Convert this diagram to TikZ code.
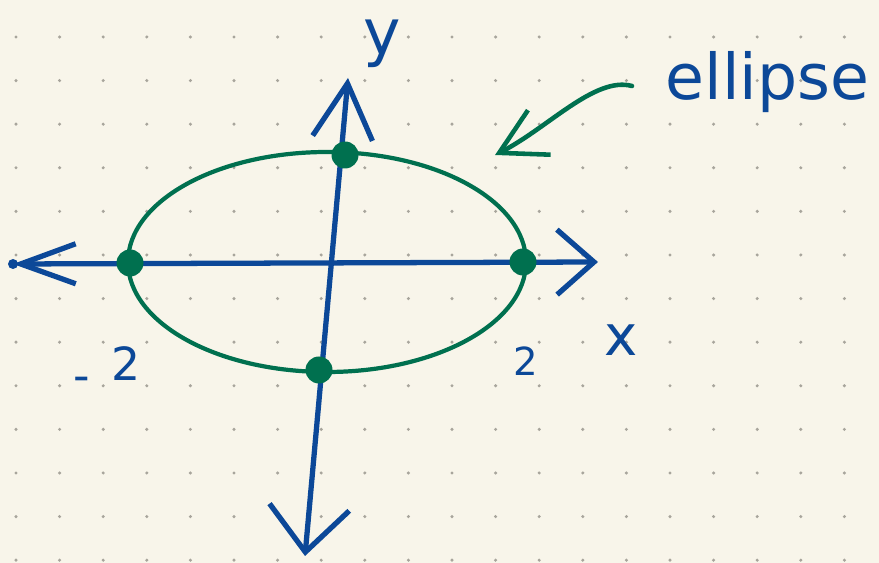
\documentclass[tikz,border=0pt]{standalone}
\usepackage{fontspec}
\setmainfont{DejaVu Sans}
\usetikzlibrary{arrows.meta}
\definecolor{paper}{HTML}{F8F5EA}
\definecolor{griddot}{HTML}{A8A59C}
\definecolor{ink}{HTML}{0C4898}
\definecolor{marker}{HTML}{00704F}
\tikzset{
  axline/.style={draw=ink, line width=1.5pt, line cap=round},
  curve/.style={draw=marker, line width=1.2pt},
  vertex/.style={circle, fill=marker, minimum size=2.7mm, inner sep=0pt},
  pointer/.style={draw=marker, line width=1.3pt, line cap=round, -{Straight Barb[length=4.5mm,width=5mm]}},
  hand/.style={text=ink, inner sep=0pt}
}

\begin{document}
\begin{tikzpicture}[x=0.1mm, y=-0.1mm]
  \fill[paper] (0,0) rectangle (879,563);
  \useasboundingbox (0,0) rectangle (879,563);
  \foreach \i in {0,...,19}
    \foreach \j in {0,...,12}
      \fill[griddot] ({16+43.6*\i},{37+43.6*\j}) circle (0.17mm);

  \coordinate (O) at (327,262);
  \coordinate (xl) at (13,264);
  \coordinate (xr) at (598,262);
  \coordinate (yt) at (348,78);
  \coordinate (yb) at (305,556);

  \draw[curve] (O) ellipse [x radius=19.9mm, y radius=11mm];

  \draw[axline, {Straight Barb[length=5.5mm,width=4mm]}-{Straight Barb[length=3.7mm,width=6.5mm]}] (xl) -- (xr);
  \draw[axline, {Straight Barb[length=4.5mm,width=8mm]}-{Straight Barb[length=5.5mm,width=6mm]}] (yb) -- (yt);
  \fill[ink] (xl) circle (0.5mm);

  \node[hand, anchor=base] (ylab) at (382,55) {\fontsize{18}{18}\selectfont y};
  \node[hand, anchor=base] (xlab) at (621,356) {\fontsize{16}{16}\selectfont x};
  \node[hand, anchor=base] (minus) at (107,381) {\fontsize{13}{13}\selectfont \raisebox{-3pt}{-}\kern6pt2};
  \node[hand, anchor=base] (plus) at (526,376) {\fontsize{11}{11}\selectfont 2};
  \node[hand, anchor=base west] (name) at (665,100) {\fontsize{18}{18}\selectfont ellipse};

  \node[vertex] (left) at (130,263) {};
  \node[vertex] (right) at (523,262) {};
  \node[vertex] (top) at (345,155) {};
  \node[vertex] (bottom) at (319,370) {};

  \coordinate (ptr) at (632,86);
  \coordinate (tip) at (495,155);
  \draw[pointer] (ptr) .. controls (595,76) and (548,128) .. (tip);
\end{tikzpicture}
\end{document}
